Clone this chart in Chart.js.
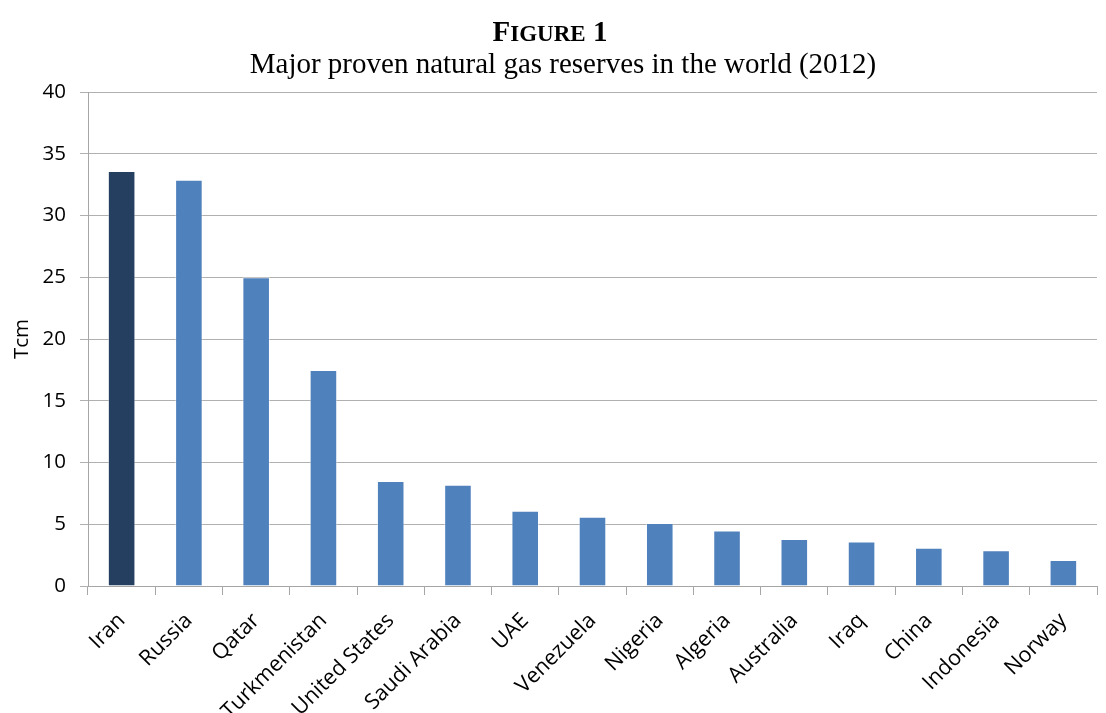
<!DOCTYPE html>
<html>
<head>
<meta charset="utf-8">
<script src="https://cdn.jsdelivr.net/npm/chart.js@4"></script>
<style>
  html, body { margin: 0; padding: 0; background: #fff; }
  #wrap { position: relative; width: 1106px; height: 713px; }
  .head { position: absolute; left: 0; width: 1106px; text-align: center; white-space: nowrap;
          font-family: "Liberation Serif", "Times New Roman", serif; color: #000; }
  .fig { top: 17px; font-size: 29px; line-height: 29px; font-weight: bold; padding-right: 6px; box-sizing: border-box; }
  .fig .sc { font-size: 23px; }
  .sub { top: 49px; font-size: 29px; line-height: 29px; padding-left: 20px; box-sizing: border-box; }
  canvas { position: absolute; left: 0; top: 0; }
</style>
</head>
<body>
<div id="wrap">
  <canvas id="chart" width="1106" height="713"></canvas>
  <div class="head fig">F<span class="sc">IGURE</span> 1</div>
  <div class="head sub">Major proven natural gas reserves in the world (2012)</div>
</div>
<script>
const countries = ["Iran", "Russia", "Qatar", "Turkmenistan", "United States", "Saudi Arabia", "UAE",
  "Venezuela", "Nigeria", "Algeria", "Australia", "Iraq", "China", "Indonesia", "Norway"];
const reserves = [33.6, 32.9, 25.0, 17.5, 8.5, 8.2, 6.1, 5.6, 5.1, 4.5, 3.8, 3.6, 3.1, 2.9, 2.1];
const yTicks = [0, 5, 10, 15, 20, 25, 30, 35, 40];

const barColors = countries.map((c, i) => (i === 0 ? "#243f60" : "#4f81bd"));
const labelFont = "'Open Sans', 'Liberation Sans', sans-serif";

new Chart(document.getElementById("chart"), {
  type: "bar",
  data: {
    labels: countries,
    datasets: [
      {
        label: "Tcm",
        data: reserves,
        backgroundColor: barColors,
        borderColor: "rgba(255,255,255,0.45)",
        borderWidth: 1,
        barPercentage: 0.41,
        categoryPercentage: 1.0,
      },
    ],
  },
  options: {
    responsive: false,
    animation: false,
    layout: { padding: { top: 92, right: 9, left: 10, bottom: 0 } },
    plugins: {
      legend: { display: false },
      tooltip: { enabled: false },
    },
    scales: {
      x: {
        afterFit: (axis) => { axis.height = 127; },
        grid: { display: true, drawOnChartArea: false, drawTicks: true, tickLength: 9, color: "#a6a6a6", offset: true },
        border: { color: "#a6a6a6" },
        ticks: {
          minRotation: 45,
          maxRotation: 45,
          autoSkip: false,
          color: "#000",
          padding: 13,
          font: { family: labelFont, size: 21.5 },
        },
      },
      y: {
        min: 0,
        max: 40,
        afterFit: (axis) => { axis.width = 78; },
        afterBuildTicks: (axis) => { axis.ticks = yTicks.map((v) => ({ value: v })); },
        grid: { color: "#b0b0b0", tickLength: 8 },
        border: { color: "#a6a6a6" },
        title: {
          display: true,
          text: "Tcm",
          color: "#000",
          padding: { top: 0, bottom: 0 },
          font: { family: labelFont, size: 20.5 },
        },
        ticks: {
          color: "#000",
          padding: 14,
          font: { family: labelFont, size: 20.5 },
        },
      },
    },
  },
});
</script>
</body>
</html>
